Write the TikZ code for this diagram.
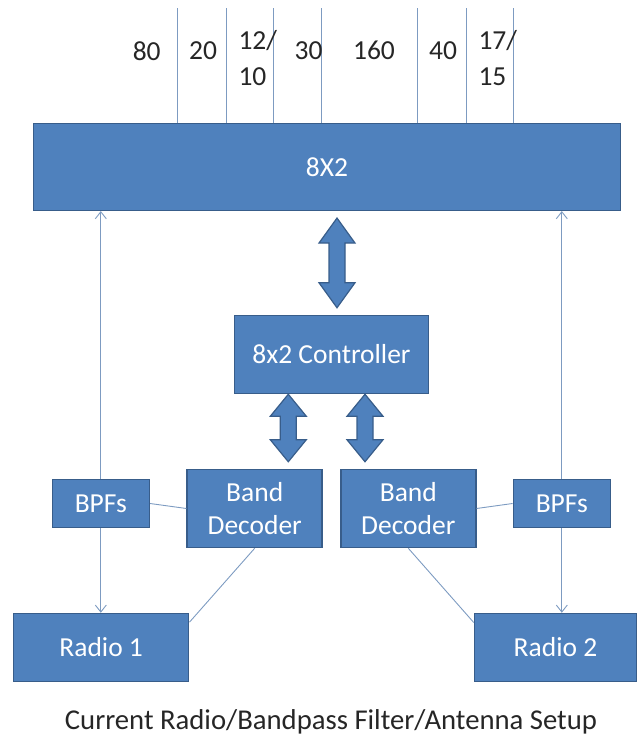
\documentclass[tikz,border=0pt]{standalone}
\usepackage{fontspec}
\setmainfont{Carlito}
\usetikzlibrary{arrows.meta,calc}
\definecolor{boxfill}{HTML}{4F81BD}
\definecolor{boxedge}{HTML}{385D8A}
\definecolor{wirecol}{HTML}{7D9BC1}
\definecolor{inkcol}{HTML}{262626}
% fat double arrow between two named points
\newcommand{\busarrow}[3]{%
  \draw[bus] (#1) -- ($(#1)+(18,#3)$) -- ($(#1)+(8,#3)$) -- ($(#2)+(8,-#3)$) -- ($(#2)+(18,-#3)$)
    -- (#2) -- ($(#2)+(-18,-#3)$) -- ($(#2)+(-8,-#3)$) -- ($(#1)+(-8,#3)$) -- ($(#1)+(-18,#3)$) -- cycle;}
\begin{document}
\begin{tikzpicture}[x=1pt, y=-1pt,
    every node/.append style={font=\fontsize{27.5}{33}\selectfont},
    box/.style={draw=boxedge, fill=boxfill, line width=1.5pt, text=white, align=center, inner sep=0pt},
    wire/.style={draw=wirecol, line width=0.9pt},
    tip/.style={-{Straight Barb[length=7pt, width=11pt]}},
    bus/.style={draw=boxedge, fill=boxfill, line width=1.2pt, line join=miter},
    band/.style={text=inkcol, inner sep=0pt, font=\fontsize{27.5}{36}\selectfont}]
  \useasboundingbox (0,0) rectangle (639,736);
  % main blocks
  \node[box, minimum width=587pt, minimum height=87pt] (big8x2) at (327,166.8) {8X2};
  \node[box, minimum width=194pt, minimum height=78pt] (ctrl) at (331.5,354.5) {8x2 Controller};
  \node[box, minimum width=97pt, minimum height=48pt] (bpfL) at (100.8,503.5) {BPFs};
  \node[box, minimum width=135pt, minimum height=78pt] (bdL) at (254.7,508.5) {Band\\Decoder};
  \node[box, minimum width=135pt, minimum height=78pt] (bdR) at (408.3,508.5) {Band\\Decoder};
  \node[box, minimum width=97pt, minimum height=48pt] (bpfR) at (561.8,503.5) {BPFs};
  \node[box, minimum width=175pt, minimum height=68pt] (radioL) at (101.2,647.5) {Radio 1};
  \node[box, minimum width=162pt, minimum height=68pt] (radioR) at (555.5,647.5) {Radio 2};
  % antenna feeds
  \foreach \x in {177.7,226,273.7,321.7,417.7,466,513.7}
    \draw[wire] (\x,8) -- (\x,8 |- big8x2.north);
  \node[band] (lbl80) at (146.7,50.8) {80};
  \node[band] (lbl20) at (203,50.8) {20};
  \node[band, anchor=west, align=left] (lbl12) at (238.3,58.5) {12/\\10};
  \node[band] (lbl30) at (308.6,50.8) {30};
  \node[band] (lbl160) at (374,50.8) {160};
  \node[band] (lbl40) at (443,50.8) {40};
  \node[band, anchor=west, align=left] (lbl17) at (478.3,58.5) {17/\\15};
  % control buses
  \coordinate (busAtop) at ($(big8x2.south)+(10,7)$);
  \coordinate (busAbot) at ($(ctrl.north)+(5.5,-7)$);
  \coordinate (busBtop) at ($(ctrl.south)+(-43.2,0)$);
  \coordinate (busBbot) at ($(bdL.north)+(33.6,-7)$);
  \coordinate (busCtop) at ($(ctrl.south)+(33.5,0)$);
  \coordinate (busCbot) at ($(bdR.north)+(-43.3,-7)$);
  \busarrow{busAtop}{busAbot}{25}
  \busarrow{busBtop}{busBbot}{22}
  \busarrow{busCtop}{busCbot}{22}
  % RF paths
  \draw[wire, tip] (bpfL.north) -- (bpfL.north |- big8x2.south);
  \draw[wire, tip] (bpfL.south) -- (bpfL.south |- radioL.north);
  \draw[wire, tip] (bpfR.north) -- (bpfR.north |- big8x2.south);
  \draw[wire, tip] (bpfR.south) -- (bpfR.south |- radioR.north);
  % decoder links
  \draw[wire] (bpfL.east) -- (bdL.west);
  \draw[wire] (bdR.east) -- (bpfR.west);
  \draw[wire] (bdL.south) -- (radioL.16);
  \draw[wire] (bdR.south) -- (radioR.163);
  \node[text=inkcol, anchor=base, font=\fontsize{28.7}{34}\selectfont] (caption) at (331,729.5) {Current Radio/Bandpass Filter/Antenna Setup};
\end{tikzpicture}
\end{document}
